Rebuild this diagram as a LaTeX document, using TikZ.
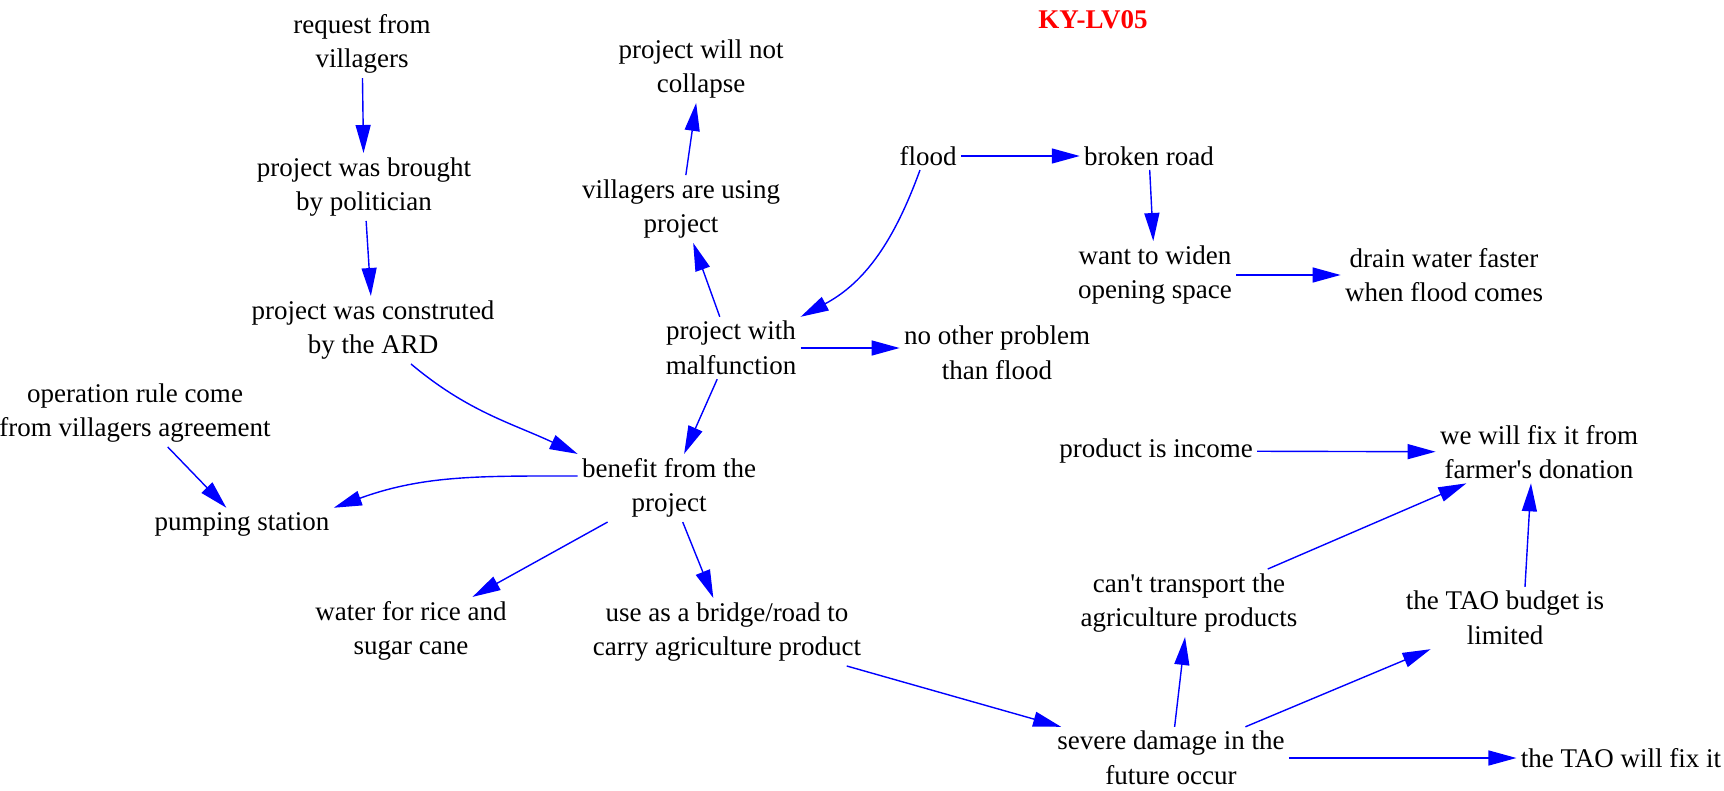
\documentclass[tikz,border=0pt]{standalone}
\usepackage{fontspec}
\setmainfont{Liberation Serif}
\usetikzlibrary{arrows.meta}
\tikzset{
	factor/.style={align=center, inner sep=2pt, text=black, font=\fontsize{13.5}{17.3}\selectfont},
	heading/.style={text=red, font=\fontsize{13.5}{17.3}\selectfont\bfseries},
	link/.style={draw=blue, line width=0.7pt},
}

\begin{document}
\begin{tikzpicture}[x=0.5pt, y=0.5pt, -{Triangle[length=14pt,width=7.5pt]}]

\useasboundingbox (0,0) rectangle (1724,-791);

\node[heading] (title) at (1093,-20) {KY-LV05};

% left column

\node[factor] (req) at (362,-44) {request from\\villagers};
\node[factor] (brought) at (364,-187) {project was brought\\by politician};
\node[factor] (constr) at (373,-330) {project was construted\\by the ARD};
\node[factor] (oprule) at (135,-413) {operation rule come\\from villagers agreement};
\node[factor] (pump) at (242,-524) {pumping station};

% middle

\node[factor] (benefit) at (669,-488) {benefit from the\\project};
\node[factor] (water) at (411,-631) {water for rice and\\sugar cane};
\node[factor] (bridge) at (727,-632) {use as a bridge/road to\\carry agriculture product};
\node[factor] (malf) at (731,-348) {project with\\malfunction};
\node[factor] (using) at (681,-209) {villagers are using\\project};
\node[factor] (collapse) at (701,-69) {project will not\\collapse};
\node[factor] (noother) at (997,-353) {no other problem\\than flood};

% flood side

\node[factor] (flood) at (928,-156) {flood};
\node[factor] (broken) at (1149,-156) {broken road};
\node[factor] (widen) at (1155,-275) {want to widen\\opening space};
\node[factor] (drain) at (1444,-275) {drain water faster\\when flood comes};

% repair side

\node[factor] (income) at (1156,-451) {product is income};
\node[factor] (donation) at (1539,-452) {we will fix it from\\farmer\textquotesingle s donation};
\node[factor] (transport) at (1189,-603) {can\textquotesingle t transport the\\agriculture products};
\node[factor] (budget) at (1505,-618) {the TAO budget is\\limited};
\node[factor] (severe) at (1171,-758) {severe damage in the\\future occur};
\node[factor] (taofix) at (1621,-758) {the TAO will fix it};

% connections

\path (req) edge[link] (brought);
\path (brought) edge[link] (constr);
\path ([xshift=19pt]constr.south) edge[link, out=-40, in=155] (benefit.north west);
\path (oprule) edge[link] (pump);
\path ([yshift=6pt]benefit.west) edge[link, out=180, in=20] (pump.north east);

\path (benefit) edge[link] (water);
\path (benefit) edge[link] (bridge);
\path (malf) edge[link] (benefit);
\path (malf) edge[link] (using);
\path (using) edge[link] (collapse);
\path (malf.east) edge[link] (malf.east -| noother.west);

\path ([xshift=-4pt]flood.south) edge[link, out=-110, in=28] (malf.north east);
\path (flood) edge[link] (broken);
\path (broken) edge[link] (widen);
\path (widen) edge[link] (drain);

\path (bridge) edge[link] (severe);
\path (income) edge[link] (donation);
\path (transport) edge[link] (donation);
\path ([xshift=10pt]budget.north) edge[link] ([xshift=-4pt]donation.south);
\path (severe) edge[link] (transport);
\path (severe) edge[link] (budget);
\path (severe) edge[link] (taofix);

\end{tikzpicture}
\end{document}
